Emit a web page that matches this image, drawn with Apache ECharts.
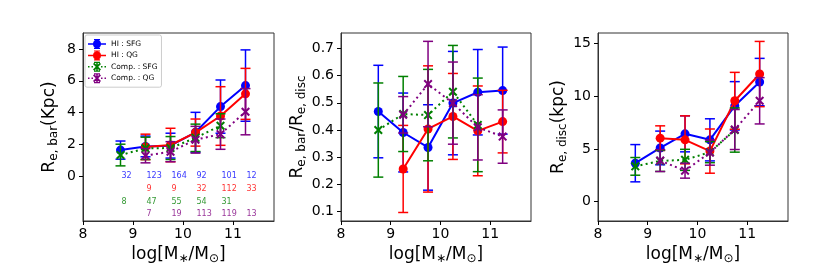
<!DOCTYPE html>
<html>
<head>
<meta charset="utf-8">
<script src="https://cdn.jsdelivr.net/npm/echarts@6/dist/echarts.min.js"></script>
<style>html,body{margin:0;padding:0;background:#fff}#c{width:830px;height:277px}</style>
</head>
<body>
<div id="c"></div>
<script>
// ---- data ----
const massBins = [8.75, 9.25, 9.75, 10.25, 10.75, 11.25];
const xTicks = [8, 9, 10, 11];

// Panel 1: R_e,bar (kpc)
const rbar_HI_SFG = [1.65, 1.88, 1.93, 2.77, 4.38, 5.70];
const rbar_HI_SFG_err = [0.57, 0.65, 0.78, 1.25, 1.67, 2.24];
const rbar_HI_QG = [null, 1.85, 1.97, 2.75, 3.79, 5.18];
const rbar_HI_QG_err = [null, 0.80, 1.05, 0.85, 1.84, 1.60];
const rbar_C_SFG = [1.34, 1.76, 1.78, 2.42, 3.18, null];
const rbar_C_SFG_err = [0.68, 0.70, 0.72, 0.86, 0.75, null];
const rbar_C_QG = [null, 1.30, 1.55, 2.30, 2.65, 4.06];
const rbar_C_QG_err = [null, 0.45, 0.63, 0.84, 0.95, 1.45];
const rbarTicks = [0, 2, 4, 6, 8];

// galaxy counts per bin
const n_HI_SFG = [32, 123, 164, 92, 101, 12];
const n_HI_QG = [null, 9, 9, 32, 112, 33];
const n_C_SFG = [8, 47, 55, 54, 31, null];
const n_C_QG = [null, 7, 19, 113, 119, 13];

// Panel 2: R_e,bar / R_e,disc
const ratio_HI_SFG = [0.468, 0.391, 0.336, 0.499, 0.539, 0.545];
const ratio_HI_SFG_err = [0.170, 0.145, 0.157, 0.190, 0.157, 0.160];
const ratio_HI_QG = [null, 0.257, 0.404, 0.450, 0.397, 0.431];
const ratio_HI_QG_err = [null, 0.160, 0.232, 0.158, 0.165, 0.115];
const ratio_C_SFG = [0.400, 0.459, 0.455, 0.541, 0.419, null];
const ratio_C_SFG_err = [0.173, 0.138, 0.168, 0.170, 0.172, null];
const ratio_C_QG = [null, 0.456, 0.569, 0.499, 0.410, 0.376];
const ratio_C_QG_err = [null, 0.067, 0.157, 0.151, 0.120, 0.098];
const ratioTicks = [0.1, 0.2, 0.3, 0.4, 0.5, 0.6, 0.7];

// Panel 3: R_e,disc (kpc)
const rdisc_HI_SFG = [3.65, 5.10, 6.44, 5.87, 9.10, 11.36];
const rdisc_HI_SFG_err = [1.77, 1.60, 1.71, 2.00, 2.30, 2.25];
const rdisc_HI_QG = [null, 6.03, 5.87, 4.80, 9.58, 12.12];
const rdisc_HI_QG_err = [null, 1.17, 2.28, 2.10, 2.70, 3.10];
const rdisc_C_SFG = [3.35, 3.87, 3.97, 4.70, 6.80, null];
const rdisc_C_SFG_err = [0.84, 1.00, 1.00, 1.00, 2.10, null];
const rdisc_C_QG = [null, 3.90, 2.94, 4.66, 6.85, 9.58];
const rdisc_C_QG_err = [null, 1.04, 0.71, 1.20, 1.90, 2.20];
const rdiscTicks = [0, 5, 10, 15];

const groupNames = ['HI : SFG', 'HI : QG', 'Comp. : SFG', 'Comp. : QG'];

// ---- styling ----
const FONT = 'DejaVu Sans';
const colors = ['#0000ff', '#ff0000', '#008000', '#800080'];
const X_SYM = 'path://M0,1.6L1.6,0L5,3.4L8.4,0L10,1.6L6.6,5L10,8.4L8.4,10L5,6.6L1.6,10L0,8.4L3.4,5Z';
const symbols = ['circle', 'circle', X_SYM, X_SYM];
const dotted = [false, false, true, true];

const ERR = 'M8.25,0H9.75V10H8.25Z M6,0H12V1.2H6Z M6,8.8H12V10H6Z';
const iconSolid = 'path://M0,4.25H18V5.75H0Z M5,5A4,4 0 1 1 13,5A4,4 0 1 1 5,5Z ' + ERR;
const iconDotted = 'path://M0,4.25H1.5V5.75H0Z M3.5,4.25H5V5.75H3.5Z M13,4.25H14.5V5.75H13Z M16.5,4.25H18V5.75H16.5Z ' +
  'M5,2.28L6.28,1L9,3.72L11.72,1L13,2.28L10.28,5L13,7.72L11.72,9L9,6.28L6.28,9L5,7.72L7.72,5Z ' + ERR;
const icons = [iconSolid, iconSolid, iconDotted, iconDotted];

const panels = [
  { vals: [rbar_HI_SFG, rbar_HI_QG, rbar_C_SFG, rbar_C_QG],
    errs: [rbar_HI_SFG_err, rbar_HI_QG_err, rbar_C_SFG_err, rbar_C_QG_err] },
  { vals: [ratio_HI_SFG, ratio_HI_QG, ratio_C_SFG, ratio_C_QG],
    errs: [ratio_HI_SFG_err, ratio_HI_QG_err, ratio_C_SFG_err, ratio_C_QG_err] },
  { vals: [rdisc_HI_SFG, rdisc_HI_QG, rdisc_C_SFG, rdisc_C_QG],
    errs: [rdisc_HI_SFG_err, rdisc_HI_QG_err, rdisc_C_SFG_err, rdisc_C_QG_err] }
];

function triples(vals, errs) {
  const out = [];
  massBins.forEach((x, i) => { if (vals[i] != null) out.push([x, vals[i], errs[i]]); });
  return out;
}

function errRenderer(color) {
  return function (params, api) {
    const x = api.value(0), y = api.value(1), e = api.value(2);
    const t = api.coord([x, y + e]);
    const b = api.coord([x, y - e]);
    const hw = 5;
    const st = { stroke: color, lineWidth: 1.5, fill: null };
    return { type: 'group', children: [
      { type: 'line', shape: { x1: t[0], y1: t[1], x2: b[0], y2: b[1] }, style: st },
      { type: 'line', shape: { x1: t[0] - hw, y1: t[1], x2: t[0] + hw, y2: t[1] }, style: st },
      { type: 'line', shape: { x1: b[0] - hw, y1: b[1], x2: b[0] + hw, y2: b[1] }, style: st }
    ]};
  };
}

const series = [];
panels.forEach((p, pi) => {
  for (let g = 0; g < 4; g++) {
    const d = triples(p.vals[g], p.errs[g]);
    series.push({
      type: 'line', name: groupNames[g], xAxisIndex: pi, yAxisIndex: pi,
      data: d.map(r => [r[0], r[1]]),
      symbol: symbols[g], symbolSize: 9,
      itemStyle: { color: colors[g], borderWidth: 0 },
      lineStyle: { color: colors[g], width: 2, type: dotted[g] ? [2, 3.3] : 'solid', cap: 'butt' },
      z: 11 + 2 * g, animation: false, silent: true, emphasis: { disabled: true }
    });
    series.push({
      type: 'custom', name: groupNames[g], xAxisIndex: pi, yAxisIndex: pi,
      data: d, renderItem: errRenderer(colors[g]),
      itemStyle: { color: colors[g] },
      encode: { x: 0, y: 1 },
      z: 10 + 2 * g, animation: false, silent: true
    });
  }
});

// count labels in panel 1
const counts = [n_HI_SFG, n_HI_QG, n_C_SFG, n_C_QG];
const rowY = [0, -0.8, -1.6, -2.35];
counts.forEach((arr, g) => {
  const d = [];
  massBins.forEach((x, i) => { if (arr[i] != null) d.push([x, rowY[g], arr[i]]); });
  series.push({
    type: 'scatter', xAxisIndex: 0, yAxisIndex: 0, data: d, symbolSize: 1,
    itemStyle: { color: 'rgba(0,0,0,0)' }, silent: true, z: 30,
    label: { show: true, position: 'right', distance: 0.5, formatter: q => String(q.value[2]),
      color: colors[g], fontFamily: FONT, fontSize: 8 }
  });
});

const grids = [
  { left: 83, top: 33, width: 191, height: 188 },
  { left: 341, top: 33, width: 190, height: 188 },
  { left: 598, top: 33, width: 190, height: 188 }
].map(g => Object.assign(g, { show: true, borderColor: '#333', borderWidth: 1, backgroundColor: 'transparent', containLabel: false }));

const sub = { fontFamily: FONT, fontSize: 12, color: '#000', lineHeight: 9, verticalAlign: 'bottom' };
const main = { fontFamily: FONT, fontSize: 17, color: '#000', lineHeight: 20 };

function xAxisCfg(i) {
  return {
    type: 'value', gridIndex: i, min: 8, max: 11.82,
    axisLine: { show: true, onZero: false, lineStyle: { color: '#333', width: 1 } },
    axisTick: { show: true, length: 4, customValues: xTicks, lineStyle: { color: '#000', width: 1 } },
    axisLabel: { customValues: xTicks, color: '#000', fontFamily: FONT, fontSize: 14, margin: 6 },
    splitLine: { show: false },
    name: '{a|log[M}{s|∗}{a|/M}{s|⊙}{a|]}', nameLocation: 'middle', nameGap: 23,
    nameTextStyle: { rich: { a: main, s: sub } }
  };
}
function yAxisCfg(i, min, max, ticks, name, gap) {
  return {
    type: 'value', gridIndex: i, min: min, max: max,
    axisLine: { show: true, onZero: false, lineStyle: { color: '#333', width: 1 } },
    axisTick: { show: true, length: 4, customValues: ticks, lineStyle: { color: '#000', width: 1 } },
    axisLabel: { customValues: ticks, color: '#000', fontFamily: FONT, fontSize: 14, margin: 7 },
    splitLine: { show: false },
    name: name, nameLocation: 'middle', nameGap: gap, nameRotate: 90,
    nameTextStyle: { rich: { a: main, s: sub } }
  };
}

const option = {
  animation: false,
  backgroundColor: '#fff',
  grid: grids,
  xAxis: [xAxisCfg(0), xAxisCfg(1), xAxisCfg(2)],
  yAxis: [
    yAxisCfg(0, -2.8, 9, rbarTicks, '{a|R}{s|e, bar}{a|(Kpc)}', 23),
    yAxisCfg(1, 0.0657, 0.7567, ratioTicks, '{a|R}{s|e, bar}{a|/R}{s|e, disc}', 33),
    yAxisCfg(2, -1.84, 16.02, rdiscTicks, '{a|R}{s|e, disc}{a|(kpc)}', 29)
  ],
  legend: {
    orient: 'vertical', left: 85, top: 35,
    padding: [4, 4, 4, 3], itemGap: 1.4, itemWidth: 18, itemHeight: 10,
    borderColor: '#cccccc', borderWidth: 1, borderRadius: 2,
    backgroundColor: 'rgba(255,255,255,0.8)',
    selectedMode: false,
    textStyle: { fontFamily: FONT, fontSize: 7.5, color: '#000' },
    itemStyle: { borderWidth: 0 },
    data: groupNames.map((n, g) => ({ name: n, icon: icons[g], itemStyle: { color: colors[g], borderWidth: 0 } }))
  },
  series: series
};

const chart = echarts.init(document.getElementById('c'), null, { renderer: 'canvas' });
chart.setOption(option);
</script>
</body>
</html>
